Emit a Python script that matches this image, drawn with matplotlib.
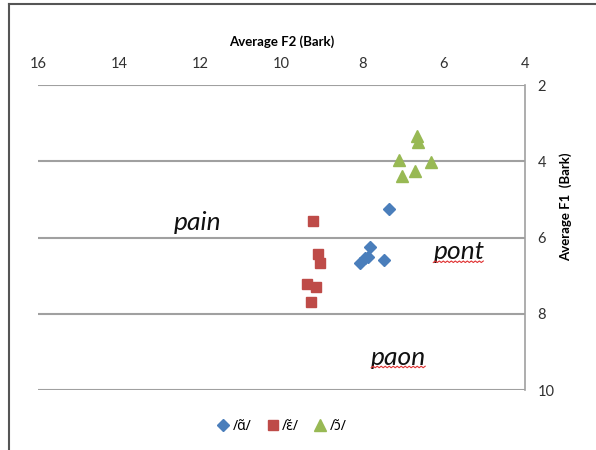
import matplotlib
matplotlib.use("Agg")
import matplotlib.pyplot as plt
import numpy as np

plt.rcParams['font.family'] = ['Lato', 'DejaVu Sans']

# F2 / F1 values (Bark)
an_f2 = [7.36, 7.82, 7.48, 8.07, 7.95, 7.86]
an_f1 = [5.25, 6.24, 6.59, 6.66, 6.54, 6.51]
en_f2 = [9.22, 9.10, 9.04, 9.37, 9.15, 9.28]
en_f1 = [5.57, 6.42, 6.68, 7.22, 7.31, 7.70]
on_f2 = [6.67, 6.63, 7.10, 6.31, 6.71, 7.04]
on_f1 = [3.34, 3.49, 3.97, 4.03, 4.25, 4.39]

labels = ["/ɑ̃/", "/ɛ̃/", "/ɔ̃/"]
xticks = [16, 14, 12, 10, 8, 6, 4]
yticks = [2, 4, 6, 8, 10]

words = ["pain", "pont", "paon"]
word_x = [12.08, 5.63, 7.11]
word_y = [5.60, 6.38, 9.14]

fig = plt.figure(figsize=(5.96, 4.5), dpi=100)
ax = fig.add_axes([0.0638, 0.1333, 0.8171, 0.6778])

ax.plot(an_f2, an_f1, 'D', color='#4a7ebb', ms=6.5, label=labels[0], zorder=3)
ax.plot(en_f2, en_f1, 's', color='#be4b48', ms=7.5, label=labels[1], zorder=3)
ax.plot(on_f2, on_f1, '^', color='#98b954', ms=9, label=labels[2], zorder=3)

ax.set_xlim(16, 4)
ax.set_ylim(10, 2)
ax.set_xticks(xticks)
ax.set_yticks(yticks)
ax.xaxis.tick_top()
ax.yaxis.tick_right()
ax.tick_params(length=0, labelsize=10.5, colors='#303030')
ax.tick_params(axis='x', pad=10)
ax.tick_params(axis='y', pad=9)
ax.xaxis.set_label_position('top')
ax.yaxis.set_label_position('right')
ax.set_xlabel("Average F2 (Bark)", fontsize=9.5, fontweight='bold', labelpad=8)
ax.set_ylabel("Average F1  (Bark)", fontsize=9.5, fontweight='bold')
ax.yaxis.set_label_coords(1.07, 0.6)

for s in ['left', 'top', 'bottom']:
    ax.spines[s].set_visible(False)
ax.spines['right'].set_color('#a0a0a0')
ax.spines['right'].set_linewidth(1.2)
ax.grid(axis='y', color='#a0a0a0', linewidth=1.5)
ax.set_axisbelow(True)

texts = []
for w, x, y in zip(words, word_x, word_y):
    texts.append(ax.text(x, y, w, fontsize=19, style='italic', ha='center',
                         va='center', color='#111111'))

leg = ax.legend(loc='upper center', bbox_to_anchor=(0.5, -0.055), ncol=3,
                frameon=False, handletextpad=0.2,
                columnspacing=1.0, handlelength=1.0,
                prop={'family': ['Noto Sans', 'DejaVu Sans'], 'size': 10})

# red wavy spell-check underline under pont and paon
fig.canvas.draw()
r = fig.canvas.get_renderer()
for t in texts[1:]:
    bb = t.get_window_extent(r)
    xs = np.arange(bb.x0, bb.x1, 2.0)
    ys = bb.y0 + 1 + np.where(np.arange(len(xs)) % 2 == 0, 0, 1.5)
    fig.add_artist(plt.Line2D(xs, ys, transform=None, color='#e03030', lw=0.8))

# screenshot frame
fig.add_artist(plt.Line2D([9/596, 9/596], [0, 1 - 4/450], color='#555555', lw=1.5))
fig.add_artist(plt.Line2D([9/596, 1], [1 - 4/450, 1 - 4/450], color='#555555', lw=1.5))

fig.savefig("out.png", dpi=100)
